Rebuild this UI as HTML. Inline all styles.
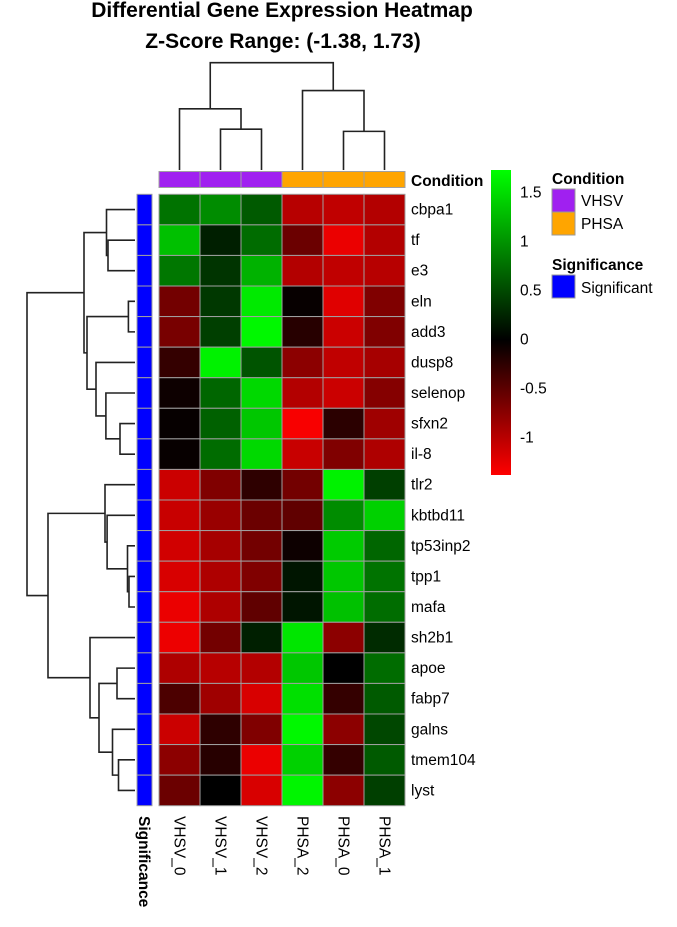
<!DOCTYPE html>
<html><head><meta charset="utf-8"><style>
html,body{margin:0;padding:0;background:#fff;}
svg{display:block;font-family:"Liberation Sans",Arial,sans-serif;}
</style></head><body>
<svg id="chart" width="677" height="927" viewBox="0 0 677 927">
<defs><linearGradient id="cbar" x1="0" y1="0" x2="0" y2="1">
<stop offset="0" stop-color="#00ff00"/><stop offset="0.5563" stop-color="#000000"/><stop offset="1" stop-color="#ff0000"/>
</linearGradient></defs>
<text x="282" y="17" text-anchor="middle" font-size="21" font-weight="bold">Differential Gene Expression Heatmap</text>
<text x="283" y="48" text-anchor="middle" font-size="21" font-weight="bold">Z-Score Range: (-1.38, 1.73)</text>
<g id="dendro" stroke="#222" stroke-width="1.6" fill="none"></g>
<g id="cells"></g>
<g id="labels" font-size="15.5"></g>
<text x="411" y="186" font-size="15.5" font-weight="bold">Condition</text>
<text transform="translate(139,816) rotate(90)" font-size="15.5" font-weight="bold">Significance</text>
<rect x="491" y="170" width="20" height="305" fill="url(#cbar)"/>
<g id="cticks" font-size="15.5"></g>
<g>
<text x="552" y="184" font-size="15.5" font-weight="bold">Condition</text>
<rect x="552" y="189" width="23" height="23" fill="#a020f0" stroke="#999"/>
<text x="581" y="206" font-size="15.5">VHSV</text>
<rect x="552" y="212" width="23" height="23" fill="#ffa500" stroke="#999"/>
<text x="581" y="229" font-size="15.5">PHSA</text>
<text x="552" y="270" font-size="15.5" font-weight="bold">Significance</text>
<rect x="552" y="275" width="23" height="23" fill="#0000ff" stroke="#999"/>
<text x="581" y="293" font-size="15.5">Significant</text>
</g>
</svg>
<script>
const genes=["cbpa1","tf","e3","eln","add3","dusp8","selenop","sfxn2","il-8","tlr2","kbtbd11","tp53inp2","tpp1","mafa","sh2b1","apoe","fabp7","galns","tmem104","lyst"];
const samples=["VHSV_0","VHSV_1","VHSV_2","PHSA_2","PHSA_0","PHSA_1"];
const conditions=["VHSV","VHSV","VHSV","PHSA","PHSA","PHSA"];
const zVHSV_0=[0.78,1.30,0.81,-0.62,-0.65,-0.28,-0.07,-0.03,-0.04,-1.10,-1.08,-1.13,-1.17,-1.27,-1.28,-0.94,-0.41,-1.10,-0.76,-0.58];
const zVHSV_1=[0.95,0.21,0.35,0.38,0.43,1.64,0.69,0.66,0.73,-0.69,-0.83,-0.90,-0.94,-0.94,-0.62,-0.99,-0.86,-0.25,-0.21,0.0];
const zVHSV_2=[0.61,0.73,1.21,1.59,1.68,0.57,1.47,1.35,1.47,-0.25,-0.58,-0.62,-0.69,-0.52,0.21,-0.97,-1.17,-0.69,-1.27,-1.17];
const zPHSA_2=[-0.99,-0.58,-0.97,-0.04,-0.21,-0.76,-0.97,-1.34,-1.08,-0.62,-0.52,-0.07,0.14,0.14,1.56,1.35,1.52,1.68,1.42,1.66];
const zPHSA_0=[-1.04,-1.27,-1.04,-1.21,-1.10,-1.04,-1.10,-0.23,-0.69,1.64,0.95,1.38,1.35,1.31,-0.76,0.0,-0.28,-0.76,-0.28,-0.76];
const zPHSA_1=[-0.97,-0.97,-0.99,-0.69,-0.69,-0.90,-0.72,-0.86,-0.94,0.43,1.42,0.69,0.78,0.74,0.29,0.73,0.61,0.48,0.61,0.43];
const colorTicks=[1.5,1,0.5,0,-0.5,-1];
const zMin=-1.38, zMax=1.73;
const rowMerges=[[1,2,0.9],[0,"c0",0.95],[3,4,0.22],[7,8,0.5],[6,"c3",0.97],[5,"c4",1.3],["c2","c5",1.6],["c1","c6",1.7],
[12,13,0.2],[11,"c8",0.25],[10,"c9",0.93],[9,"c10",1.0],[15,16,0.6],[18,19,0.55],[17,"c13",0.75],["c12","c14",1.2],[14,"c15",1.5],["c11","c16",2.9],["c7","c17",3.6]];
const colMerges=[[1,2,0.38],[0,"c0",0.57],[4,5,0.36],[3,"c2",0.74],["c1","c3",1.0]];

const svgNS="http://www.w3.org/2000/svg";
const X0=159,CW=41,Y0=194.3,RH=30.57;
const cols=[zVHSV_0,zVHSV_1,zVHSV_2,zPHSA_2,zPHSA_0,zPHSA_1];
function color(z){
  if(z>=0){const g=Math.round(255*Math.min(1,z/zMax));return `rgb(0,${g},0)`;}
  const r=Math.round(255*Math.min(1,z/zMin));return `rgb(${r},0,0)`;
}
function mk(tag,attrs,parent){const e=document.createElementNS(svgNS,tag);for(const k in attrs)e.setAttribute(k,attrs[k]);parent.appendChild(e);return e;}
const cells=document.getElementById('cells');
const labels=document.getElementById('labels');
const condColor={VHSV:"#a020f0",PHSA:"#ffa500"};
samples.forEach((s,j)=>{
  const a=mk('rect',{x:X0+j*CW,y:171.5,width:CW,height:16,fill:condColor[conditions[j]],stroke:"#a0a0a0","stroke-width":1},cells);
  
  
  genes.forEach((g,i)=>{
    const r=mk('rect',{x:X0+j*CW,y:Y0+i*RH,width:CW,height:RH,fill:color(cols[j][i]),stroke:"#a0a0a0","stroke-width":1},cells);
    
    
  });
  const t=mk('text',{transform:`translate(${X0+j*CW+CW/2-5},816) rotate(90)`},labels);
  t.textContent=s;
  
  
});
genes.forEach((g,i)=>{
  const r=mk('rect',{x:137,y:Y0+i*RH,width:15,height:RH,fill:"#0000ff",stroke:"#a0a0a0","stroke-width":1},cells);
  
  
  const t=mk('text',{x:411,y:Y0+i*RH+RH/2+5},labels);
  t.textContent=g;
  
  
});
const ct=document.getElementById('cticks');
const cbTop=170,cbBot=475;
colorTicks.forEach(v=>{
  const y=cbTop+(zMax-v)/(zMax-zMin)*(cbBot-cbTop);
  const t=mk('text',{x:520,y:y+5},ct);
  t.textContent=String(v);
  
  
});
const dg=document.getElementById('dendro');
function drawDendro(merges,leafPos,hScale,base,horizontal,name){
  const pos={},ht={};
  const get=k=>typeof k==="number"?[leafPos(k),0]:[pos[k],ht[k]];
  merges.forEach((m,k)=>{
    const [a,ha]=get(m[0]),[b,hb]=get(m[1]),h=m[2];
    let d;
    if(horizontal){
      const xa=base-ha*hScale,xb=base-hb*hScale,xh=base-h*hScale;
      d=`M${xa},${a}H${xh}V${b}H${xb}`;
    }else{
      const ya=base-ha*hScale,yb=base-hb*hScale,yh=base-h*hScale;
      d=`M${a},${ya}V${yh}H${b}V${yb}`;
    }
    const p=mk('path',{d:d},dg);
    
    
    pos["c"+k]=(a+b)/2;ht["c"+k]=h;
  });
}
drawDendro(rowMerges,i=>Y0+i*RH+RH/2,30,135,true,'row-dendrogram');
drawDendro(colMerges,j=>X0+j*CW+CW/2,107.3,170,false,'column-dendrogram');
</script>
</body></html>
